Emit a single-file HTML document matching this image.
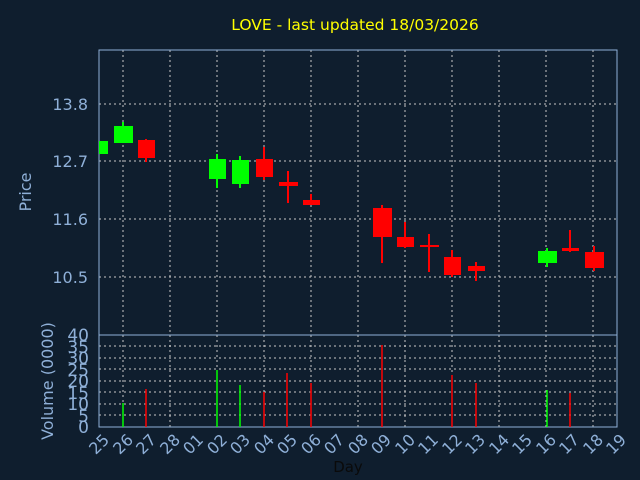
<!DOCTYPE html><html><head><style>body{margin:0;background:#0f1e2e}svg{display:block}</style></head><body>
<svg width="640" height="480" xmlns="http://www.w3.org/2000/svg" font-family="DejaVu Sans, Liberation Sans, sans-serif">
<rect width="640" height="480" fill="#0f1e2e"/>
<text x="355" y="30" fill="#ffff00" font-size="15.5" text-anchor="middle">LOVE - last updated 18/03/2026</text>
<g stroke="#c8c8c8" stroke-dasharray="2,3" stroke-width="1">
<line x1="99" x2="617" y1="104" y2="104"/><line x1="99" x2="617" y1="161" y2="161"/><line x1="99" x2="617" y1="219" y2="219"/><line x1="99" x2="617" y1="277" y2="277"/>
<line x1="99" x2="617" y1="346" y2="346"/><line x1="99" x2="617" y1="358" y2="358"/><line x1="99" x2="617" y1="369" y2="369"/><line x1="99" x2="617" y1="381" y2="381"/><line x1="99" x2="617" y1="392" y2="392"/><line x1="99" x2="617" y1="404" y2="404"/><line x1="99" x2="617" y1="415" y2="415"/>
<line x1="123" x2="123" y1="50" y2="427"/><line x1="170" x2="170" y1="50" y2="427"/><line x1="217" x2="217" y1="50" y2="427"/><line x1="264" x2="264" y1="50" y2="427"/><line x1="311" x2="311" y1="50" y2="427"/><line x1="358" x2="358" y1="50" y2="427"/><line x1="405" x2="405" y1="50" y2="427"/><line x1="452" x2="452" y1="50" y2="427"/><line x1="499" x2="499" y1="50" y2="427"/><line x1="546" x2="546" y1="50" y2="427"/><line x1="593" x2="593" y1="50" y2="427"/>
</g>
<g stroke="#8fb0d8" fill="none"><rect x="99" y="50" width="518" height="377"/><line x1="99" x2="617" y1="335" y2="335"/></g>
<g stroke-width="2">
<line x1="123" x2="123" y1="122" y2="143" stroke="#00ff00"/><rect x="114" y="126" width="19" height="17" fill="#00ff00"/>
<rect x="99" y="141" width="9" height="13" fill="#00ff00"/>
<line x1="146" x2="146" y1="139" y2="162" stroke="#f00"/><rect x="138" y="140" width="17" height="18" fill="#f00"/>
<line x1="217" x2="217" y1="154" y2="188" stroke="#00ff00"/><rect x="209" y="159" width="17" height="20" fill="#00ff00"/>
<line x1="240" x2="240" y1="156" y2="188" stroke="#00ff00"/><rect x="232" y="160" width="17" height="24" fill="#00ff00"/>
<line x1="264" x2="264" y1="147" y2="180" stroke="#f00"/><rect x="256" y="159" width="17" height="18" fill="#f00"/>
<line x1="288" x2="288" y1="171" y2="203" stroke="#f00"/><rect x="279" y="182" width="19" height="4" fill="#f00"/>
<line x1="311" x2="311" y1="194" y2="205" stroke="#f00"/><rect x="303" y="200" width="17" height="5" fill="#f00"/>
<line x1="382" x2="382" y1="205" y2="263" stroke="#f00"/><rect x="373" y="208" width="19" height="29" fill="#f00"/>
<line x1="405" x2="405" y1="222" y2="248" stroke="#f00"/><rect x="397" y="237" width="17" height="10" fill="#f00"/>
<line x1="429" x2="429" y1="234" y2="272" stroke="#f00"/><rect x="420" y="245" width="19" height="2" fill="#f00"/>
<line x1="452" x2="452" y1="250" y2="277" stroke="#f00"/><rect x="444" y="257" width="17" height="18" fill="#f00"/>
<line x1="476" x2="476" y1="262" y2="281" stroke="#f00"/><rect x="468" y="266" width="17" height="5" fill="#f00"/>
<line x1="547" x2="547" y1="248" y2="267" stroke="#00ff00"/><rect x="538" y="251" width="19" height="12" fill="#00ff00"/>
<line x1="570" x2="570" y1="230" y2="252" stroke="#f00"/><rect x="562" y="248" width="17" height="3" fill="#f00"/>
<line x1="594" x2="594" y1="246" y2="271" stroke="#f00"/><rect x="585" y="252" width="19" height="16" fill="#f00"/>
</g>
<g stroke-width="1.5">
<line x1="123" x2="123" y1="403" y2="427" stroke="#00ff00"/><line x1="146" x2="146" y1="389" y2="427" stroke="#f00"/>
<line x1="217" x2="217" y1="370" y2="427" stroke="#00ff00"/><line x1="240" x2="240" y1="385" y2="427" stroke="#00ff00"/>
<line x1="264" x2="264" y1="392" y2="427" stroke="#f00"/><line x1="287" x2="287" y1="373" y2="427" stroke="#f00"/>
<line x1="311" x2="311" y1="383" y2="427" stroke="#f00"/><line x1="382" x2="382" y1="345" y2="427" stroke="#f00"/>
<line x1="452" x2="452" y1="375" y2="427" stroke="#f00"/><line x1="476" x2="476" y1="383" y2="427" stroke="#f00"/>
<line x1="547" x2="547" y1="390" y2="427" stroke="#00ff00"/><line x1="570" x2="570" y1="393" y2="427" stroke="#f00"/>
</g>
<g fill="#8fb0d8" font-size="16" text-anchor="end">
<text x="88" y="110">13.8</text><text x="88" y="167">12.7</text><text x="88" y="225">11.6</text><text x="88" y="283">10.5</text>
</g>
<g fill="#8fb0d8" font-size="17" text-anchor="end">
<text x="89" y="341">40</text><text x="89" y="353">35</text><text x="89" y="364">30</text><text x="89" y="376">25</text><text x="89" y="387">20</text><text x="89" y="399">15</text><text x="89" y="410">10</text><text x="89" y="422">5</text><text x="89" y="433">0</text>
</g>
<text transform="translate(31,192) rotate(-90)" fill="#8fb0d8" font-size="16" text-anchor="middle">Price</text>
<text transform="translate(53,381) rotate(-90)" fill="#8fb0d8" font-size="16" text-anchor="middle">Volume (0000)</text>
<text x="348" y="472" fill="#0a0a0a" font-size="15" text-anchor="middle">Day</text>
<g fill="#8fb0d8" font-size="16" text-anchor="middle">
<text transform="translate(103,448) rotate(-45)">25</text>
<text transform="translate(127,448) rotate(-45)">26</text>
<text transform="translate(150,448) rotate(-45)">27</text>
<text transform="translate(174,448) rotate(-45)">28</text>
<text transform="translate(197,448) rotate(-45)">01</text>
<text transform="translate(221,448) rotate(-45)">02</text>
<text transform="translate(244,448) rotate(-45)">03</text>
<text transform="translate(268,448) rotate(-45)">04</text>
<text transform="translate(291,448) rotate(-45)">05</text>
<text transform="translate(315,448) rotate(-45)">06</text>
<text transform="translate(338,448) rotate(-45)">07</text>
<text transform="translate(362,448) rotate(-45)">08</text>
<text transform="translate(385,448) rotate(-45)">09</text>
<text transform="translate(409,448) rotate(-45)">10</text>
<text transform="translate(432,448) rotate(-45)">11</text>
<text transform="translate(456,448) rotate(-45)">12</text>
<text transform="translate(479,448) rotate(-45)">13</text>
<text transform="translate(503,448) rotate(-45)">14</text>
<text transform="translate(526,448) rotate(-45)">15</text>
<text transform="translate(550,448) rotate(-45)">16</text>
<text transform="translate(573,448) rotate(-45)">17</text>
<text transform="translate(597,448) rotate(-45)">18</text>
<text transform="translate(620,448) rotate(-45)">19</text>
</g>
</svg>
</body></html>
